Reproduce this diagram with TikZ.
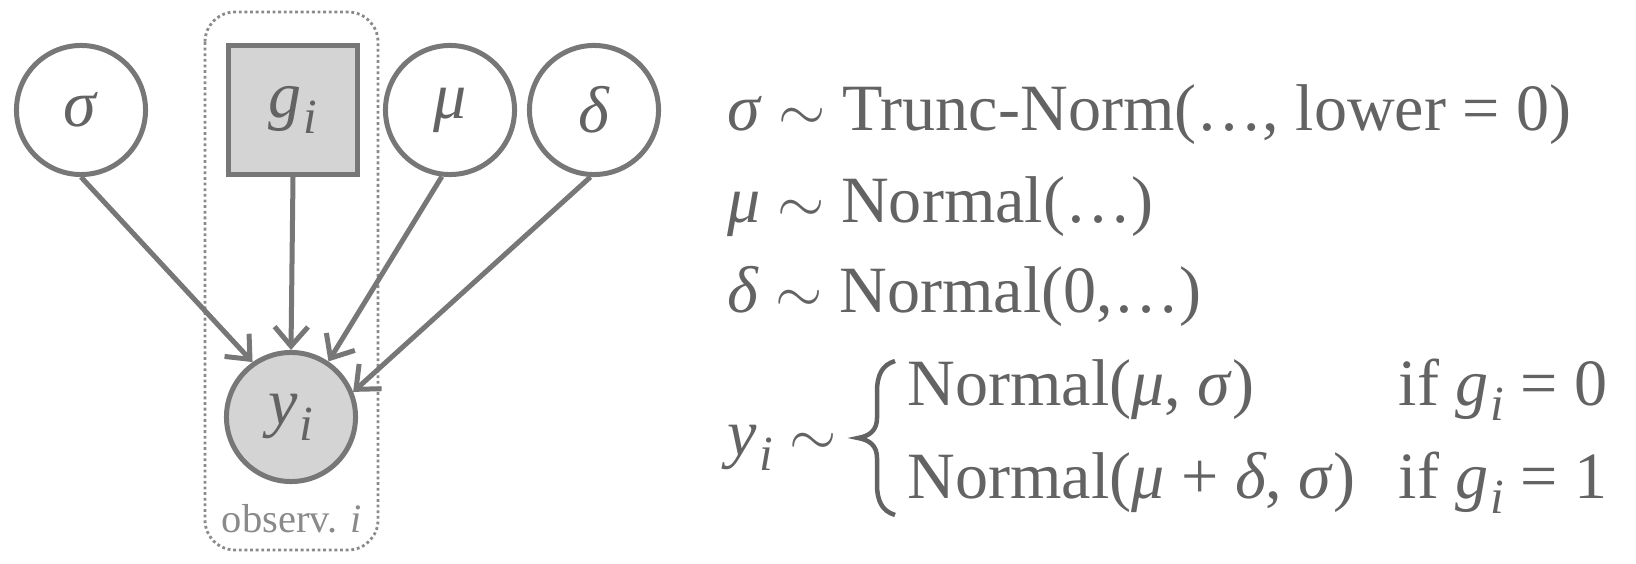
\documentclass[tikz,border=0pt]{standalone}
\usepackage{fontspec}
\setmainfont{Liberation Serif}
\usetikzlibrary{arrows.meta}
\definecolor{linegray}{HTML}{777777}
\definecolor{fillgray}{HTML}{D4D4D4}
\definecolor{textgray}{HTML}{636363}
\definecolor{plategray}{HTML}{8A8A8A}
\newcommand{\mv}[1]{\textit{#1}}
\newcommand{\idx}[1]{\textit{#1}\kern0.03em\raisebox{-0.24em}{\fontsize{14}{14}\selectfont\textit{i}}}
\newcommand{\eqfont}{\fontsize{18.8}{23}\selectfont}
\begin{document}
\begin{tikzpicture}[x=0.01cm,y=-0.01cm,
    every node/.style={text=textgray,font=\eqfont},
    latent/.style={circle,draw=linegray,line width=0.05cm,minimum size=1.29cm,inner sep=0pt},
    observed/.style={latent,fill=fillgray},
    fixed/.style={rectangle,draw=linegray,line width=0.05cm,fill=fillgray,minimum size=1.29cm,inner sep=0pt},
    edge/.style={draw=linegray,line width=0.05cm,-{Straight Barb[length=5.5pt,width=9.5pt]}},
    plate/.style={draw=plategray,line width=0.8pt,dash pattern=on 0.8pt off 0.8pt,rounded corners=0.3cm},
    eq/.style={anchor=base west,inner sep=0pt}]
    \useasboundingbox (0,0) rectangle (1636,564);
    % graph
    \node[latent] (sigma) at (81,110) {\mv{σ}};
    \node[fixed] (g) at (293,110) {\idx{g}};
    \node[latent] (mu) at (450,110) {\mv{μ}};
    \node[latent] (delta) at (594,110) {\mv{δ}};
    \node[observed] (y) at (291,417) {\idx{y}};
    \draw[plate] (205,12) rectangle (378,550);
    \node[anchor=base,text=plategray,font=\fontsize{11.5}{14}\selectfont] (plate-label) at (292,532) {observ. \textit{i}};
    \draw[edge] (sigma.south) -- (y.125);
    \draw[edge] (g.south) -- (y.north);
    \draw[edge] (mu.-97) -- (y.56);
    \draw[edge] (delta.-93) -- (y.22);
    % model
    \node[eq] (sigma-def) at (727,131) {\mv{σ} $\sim$ Trunc-Norm(…, lower = 0)};
    \node[eq] (mu-def) at (727,222) {\mv{μ} $\sim$ Normal(…)};
    \node[eq] (delta-def) at (727,313) {\mv{δ} $\sim$ Normal(0,…)};
    \node[eq] (y-def) at (727,455) {\idx{y} $\sim$};
    \draw[textgray,line width=0.045cm] (895,361) .. controls (882,365) and (877,375) .. (877,392) -- (877,418)
        .. controls (877,430) and (870,436) .. (858,438) .. controls (870,440) and (877,446) .. (877,458)
        -- (877,484) .. controls (877,501) and (882,511) .. (895,515);
    \node[eq] (case-a) at (907,405) {Normal(\mv{μ}, \mv{σ})};
    \node[eq] (if-a) at (1398,405) {if \idx{g} = 0};
    \node[eq] (case-b) at (907,498) {Normal(\mv{μ} + \mv{δ}, \mv{σ})};
    \node[eq] (if-b) at (1398,498) {if \idx{g} = 1};
\end{tikzpicture}
\end{document}
